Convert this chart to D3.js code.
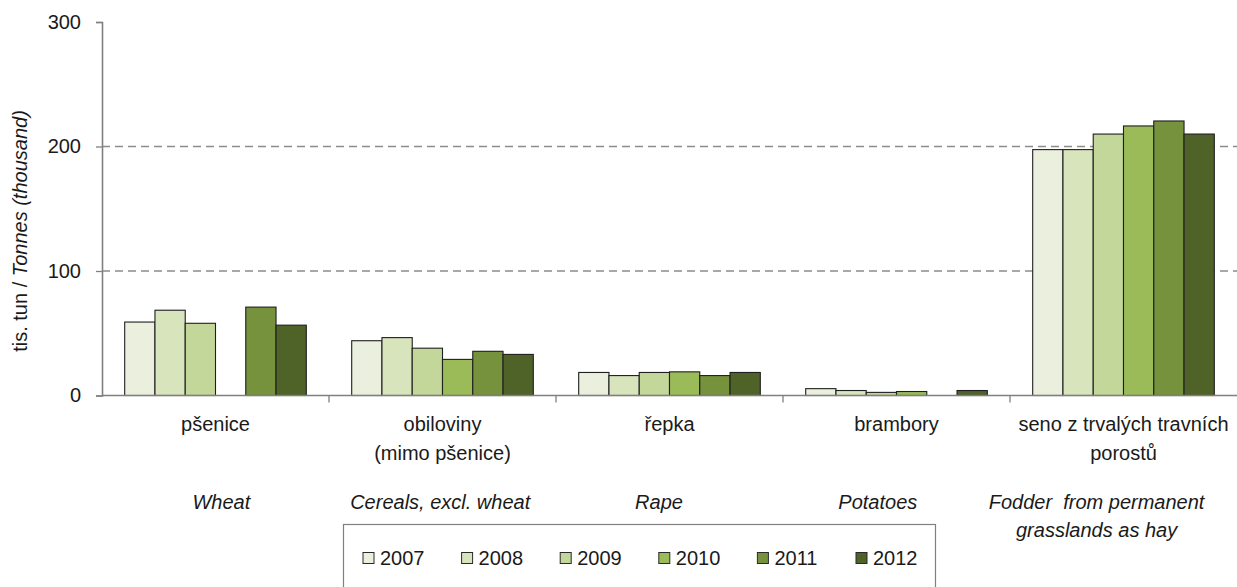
<!DOCTYPE html>
<html>
<head>
<meta charset="utf-8">
<script src="https://cdn.jsdelivr.net/npm/d3@7"></script>
<style>
  body { margin: 0; background: #fff; }
  text { font-family: "Liberation Sans", Arial, sans-serif; fill: #1a1a1a; }
</style>
</head>
<body>
<div id="chart"></div>
<script>
// categories (Czech first line, optional second line) and English labels
const categories = ['pšenice', 'obiloviny', 'řepka', 'brambory', 'seno'];
const czLabels = [
  ['pšenice'],
  ['obiloviny', '(mimo pšenice)'],
  ['řepka'],
  ['brambory'],
  ['seno z trvalých travních', 'porostů']
];
const enLabels = [
  ['Wheat'],
  ['Cereals, excl. wheat'],
  ['Rape'],
  ['Potatoes'],
  ['Fodder  from permanent', 'grasslands as hay']
];
const years = ['2007', '2008', '2009', '2010', '2011', '2012'];
const colors = ['#ebf0de', '#d8e4bc', '#c4d79b', '#9bbb59', '#76923c', '#4f6228'];
// values per year, one entry per category (null = no bar)
const v2007 = [59, 44, 18.5, 5.5, 197.5];
const v2008 = [68.5, 46.5, 16, 4, 197.5];
const v2009 = [58, 38, 18.5, 2.5, 210];
const v2010 = [null, 29, 19, 3.2, 216.5];
const v2011 = [71, 35.5, 16, null, 220.5];
const v2012 = [56.5, 33, 18.5, 4, 210];
const series = [v2007, v2008, v2009, v2010, v2011, v2012];
const yTicks = [0, 100, 200, 300];

const W = 1237, H = 587;
const plotLeft = 102, plotRight = 1237, plotTop = 22, plotBottom = 395.5;

const svg = d3.select('#chart').append('svg')
  .attr('width', W)
  .attr('height', H);

const x0 = d3.scaleBand().domain(categories).range([plotLeft, plotRight]);
const x1 = d3.scaleBand().domain(years).range([0, x0.bandwidth()]).paddingOuter(0.75);
const y = d3.scaleLinear().domain([0, 300]).range([plotBottom, plotTop]);
// English captions sit in their own, slightly narrower, band layout
const xEn = d3.scaleBand().domain(categories).range([112, 1206]);

// dashed gridlines
svg.append('g')
  .selectAll('line')
  .data(yTicks.filter(d => d > 0 && d < 300))
  .join('line')
  .attr('x1', plotLeft).attr('x2', plotRight)
  .attr('y1', d => y(d)).attr('y2', d => y(d))
  .attr('stroke', '#8c8c8c')
  .attr('stroke-width', 1.3)
  .attr('stroke-dasharray', '8,5');

// bars
const bars = [];
series.forEach((vals, i) => {
  vals.forEach((v, j) => {
    if (v != null) bars.push({ year: years[i], cat: categories[j], value: v, color: colors[i] });
  });
});

svg.append('g')
  .selectAll('rect')
  .data(bars)
  .join('rect')
  .attr('x', d => x0(d.cat) + x1(d.year))
  .attr('y', d => y(d.value))
  .attr('width', x1.bandwidth())
  .attr('height', d => y(0) - y(d.value))
  .attr('fill', d => d.color)
  .attr('stroke', '#1f1f1f')
  .attr('stroke-width', 1.1);

// y axis
const yAxis = svg.append('g')
  .attr('transform', `translate(${plotLeft},0)`)
  .call(d3.axisLeft(y).tickValues(yTicks).tickSize(6).tickPadding(15));
yAxis.select('.domain').attr('stroke', '#808080').attr('stroke-width', 1.6);
yAxis.selectAll('.tick line').attr('stroke', '#808080').attr('stroke-width', 1.3);
yAxis.selectAll('.tick text')
  .style('font-size', '20px')
  .style('font-family', '"Liberation Sans", Arial, sans-serif')
  .attr('fill', '#1a1a1a');

// x axis: line at zero with ticks at category boundaries
svg.append('line')
  .attr('x1', plotLeft).attr('x2', plotRight)
  .attr('y1', y(0)).attr('y2', y(0))
  .attr('stroke', '#808080')
  .attr('stroke-width', 1.6);
svg.append('g')
  .selectAll('line')
  .data(categories.slice(1))
  .join('line')
  .attr('x1', d => x0(d)).attr('x2', d => x0(d))
  .attr('y1', y(0)).attr('y2', y(0) + 7)
  .attr('stroke', '#808080')
  .attr('stroke-width', 1.3);

// category labels (Czech)
const cz = svg.append('g')
  .selectAll('text')
  .data(categories)
  .join('text')
  .attr('text-anchor', 'middle')
  .style('font-size', '20px')
  .attr('x', d => x0(d) + x0.bandwidth() / 2)
  .attr('y', 431);
cz.each(function(d, i) {
  d3.select(this).selectAll('tspan')
    .data(czLabels[i])
    .join('tspan')
    .attr('x', x0(d) + x0.bandwidth() / 2)
    .attr('dy', (t, k) => k === 0 ? 0 : 29)
    .text(t => t);
});

// English labels
const en = svg.append('g')
  .selectAll('text')
  .data(categories)
  .join('text')
  .attr('text-anchor', 'middle')
  .style('font-size', '20px')
  .style('font-style', 'italic')
  .style('white-space', 'pre')
  .attr('x', d => xEn(d) + xEn.bandwidth() / 2)
  .attr('y', 509);
en.each(function(d, i) {
  d3.select(this).selectAll('tspan')
    .data(enLabels[i])
    .join('tspan')
    .attr('x', xEn(d) + xEn.bandwidth() / 2)
    .attr('dy', (t, k) => k === 0 ? 0 : 28)
    .text(t => t);
});

// y axis title
const yTitle = svg.append('text')
  .attr('transform', 'translate(27,231) rotate(-90)')
  .attr('text-anchor', 'middle')
  .style('font-size', '20px')
  .style('white-space', 'pre');
yTitle.append('tspan').text('tis. tun / ');
yTitle.append('tspan').style('font-style', 'italic').text('Tonnes (thousand)');

// legend
const legend = svg.append('g');
legend.append('rect')
  .attr('x', 343.5).attr('y', 524.5)
  .attr('width', 592).attr('height', 80)
  .attr('fill', '#fff')
  .attr('stroke', '#808080')
  .attr('stroke-width', 1.2);
const item = legend.selectAll('g.item')
  .data(years)
  .join('g')
  .attr('class', 'item')
  .attr('transform', (d, i) => `translate(${363 + i * 98.6},552.5)`);
item.append('rect')
  .attr('width', 11).attr('height', 11)
  .attr('fill', (d, i) => colors[i])
  .attr('stroke', '#2a2a2a')
  .attr('stroke-width', 1);
item.append('text')
  .attr('x', 17).attr('y', 12.5)
  .style('font-size', '20px')
  .text(d => d);
</script>
</body>
</html>
